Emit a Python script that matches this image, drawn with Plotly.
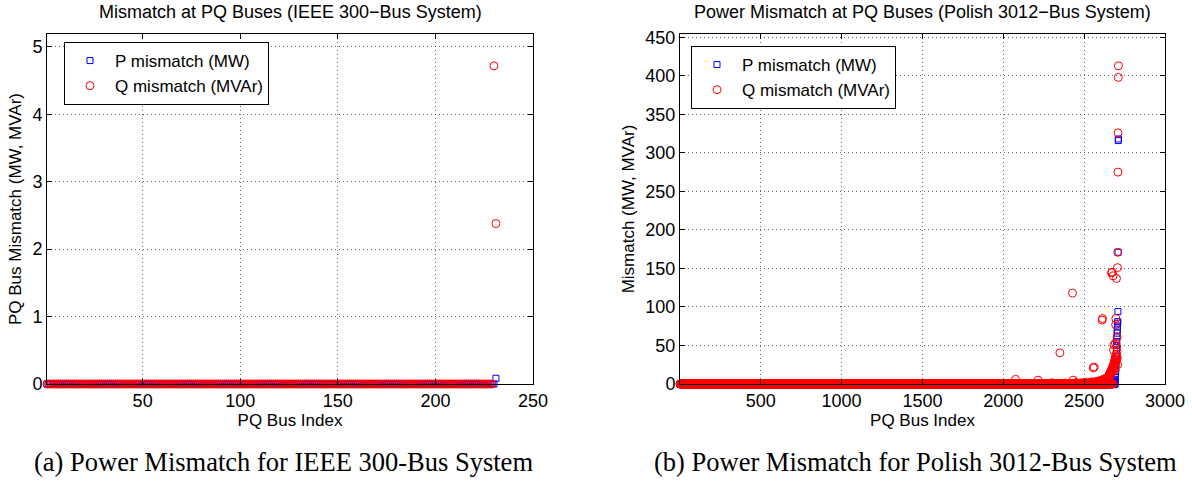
import numpy as np
import plotly.graph_objects as go

# ---------------- data ----------------
# (a) IEEE 300-bus system: PQ bus indices 1..231, all mismatches ~0 except listed
ieee_n_pq = 231
ieee_p_idx = [231]
ieee_p_val = [0.085]
ieee_q_idx = [230, 231]
ieee_q_val = [4.72, 2.38]

# (b) Polish 3012-bus system: PQ bus indices 1..2712, all ~0 except listed
polish_n_pq = 2712
polish_p_idx = [2650, 2670, 2680, 2685, 2688, 2690, 2692, 2693, 2694, 2695,
                2696, 2697, 2698, 2699, 2700, 2701, 2702, 2703, 2704, 2705,
                2706, 2707, 2708, 2709, 2710, 2711, 2712]
polish_p_val = [0.5, 1, 1.5, 2, 3, 4, 6, 9, 12, 16,
                20, 25, 31, 36, 44, 50, 55, 61, 66, 70,
                75, 79, 81, 94, 171, 316, 318]
polish_q_idx = [2076, 2215, 2300, 2350, 2380, 2428, 2432, 2450, 2480, 2500,
                2520, 2540, 2550, 2556, 2562, 2565, 2575, 2585, 2590, 2595,
                2600, 2605, 2611, 2614, 2615, 2620, 2625, 2630, 2635, 2640,
                2645, 2648, 2650, 2653, 2655, 2658, 2660, 2662, 2664, 2666,
                2668, 2669, 2670, 2672, 2673, 2675, 2677, 2679, 2680, 2681,
                2682, 2683, 2684, 2685, 2686, 2687, 2688, 2689, 2690, 2691,
                2692, 2693, 2694, 2695, 2696, 2697, 2698, 2699, 2700, 2701,
                2702, 2703, 2704, 2705, 2706, 2707, 2708, 2709, 2710, 2711,
                2712]
polish_q_val = [6, 5, 1.5, 40.5, 1.2, 118, 5, 2, 1.5, 2,
                2.5, 2, 3, 21, 22, 2.5, 3, 3.5, 2, 4,
                3, 5, 83, 85, 4, 6, 5, 7, 6, 8,
                7, 9, 10, 8, 12, 10, 14, 12, 16, 13,
                18, 144.5, 15, 20, 145, 17, 22, 140.5, 24, 19,
                44, 26, 21, 50.8, 28, 23, 30, 25, 18, 32,
                27, 35, 53, 77, 85, 38, 29, 31, 137, 48,
                35, 42, 61, 34, 151, 25, 171, 275, 326, 398,
                413]

ieee_xticks = [50, 100, 150, 200, 250]
ieee_yticks = [0, 1, 2, 3, 4, 5]
polish_xticks = [500, 1000, 1500, 2000, 2500, 3000]
polish_yticks = [0, 50, 100, 150, 200, 250, 300, 350, 400, 450]


def full_series(n, idx, val):
    arr = np.zeros(n)
    arr[np.array(idx) - 1] = val
    return arr


ieee_x = np.arange(1, ieee_n_pq + 1)
ieee_p = full_series(ieee_n_pq, ieee_p_idx, ieee_p_val)
ieee_q = full_series(ieee_n_pq, ieee_q_idx, ieee_q_val)
polish_x = np.arange(1, polish_n_pq + 1)
polish_p = full_series(polish_n_pq, polish_p_idx, polish_p_val)
polish_q = full_series(polish_n_pq, polish_q_idx, polish_q_val)

# ---------------- figure ----------------
W, H = 1192, 485
FONT = "Liberation Sans, Arial, Helvetica, sans-serif"
SERIF = "Liberation Serif, Times New Roman, serif"
BLUE = "#0000ff"
RED = "#ff0000"


def px_x(p):
    return p / W


def px_y(p):
    return 1 - p / H


fig = go.Figure()

sq = dict(symbol="square-open", size=6, color=BLUE, line=dict(width=1, color=BLUE))
ci = dict(symbol="circle-open", size=8, color=RED, line=dict(width=1, color=RED))

fig.add_trace(go.Scatter(x=ieee_x, y=ieee_p, mode="markers", marker=sq, cliponaxis=False,
                         name="P mismatch (MW)", xaxis="x", yaxis="y", legend="legend"))
fig.add_trace(go.Scatter(x=ieee_x, y=ieee_q, mode="markers", marker=ci, cliponaxis=False,
                         name="Q mismatch (MVAr)", xaxis="x", yaxis="y", legend="legend"))
fig.add_trace(go.Scatter(x=polish_x, y=polish_p, mode="markers", marker=sq, cliponaxis=False,
                         name="P mismatch (MW)", xaxis="x2", yaxis="y2", legend="legend2"))
fig.add_trace(go.Scatter(x=polish_x, y=polish_q, mode="markers", marker=ci, cliponaxis=False,
                         name="Q mismatch (MVAr)", xaxis="x2", yaxis="y2", legend="legend2"))

axis_common = dict(
    automargin=False,
    showline=True, linecolor="black", linewidth=1, mirror="ticks",
    ticks="inside", ticklen=5, tickcolor="black", tickwidth=1,
    showgrid=True, gridcolor="rgba(0,0,0,0.6)", gridwidth=1, griddash="1px,3px",
    zeroline=False, tickfont=dict(family=FONT, size=18, color="black"),
    title_font=dict(family=FONT, size=17, color="black"),
)

ydom = [px_y(384), px_y(34)]

legend_common = dict(xanchor="left", yanchor="top", bgcolor="white",
                     bordercolor="black", borderwidth=1, itemwidth=40,
                     font=dict(family=FONT, size=17, color="black"), tracegroupgap=0)

fig.update_layout(
    template="none",
    width=W, height=H,
    margin=dict(l=0, r=0, t=0, b=0, autoexpand=False),
    paper_bgcolor="white", plot_bgcolor="white",
    font=dict(family=FONT, color="black"),
    showlegend=True,
    xaxis=dict(axis_common, domain=[px_x(47), px_x(533)], range=[1, 250],
               tickvals=ieee_xticks, title=dict(text="PQ Bus Index", standoff=0),
               anchor="y"),
    yaxis=dict(axis_common, domain=ydom, range=[0, 1.1 * max(ieee_q_val)],
               tickvals=ieee_yticks, title=dict(text="PQ Bus Mismatch (MW, MVAr)", standoff=6),
               anchor="x"),
    xaxis2=dict(axis_common, domain=[px_x(680), px_x(1165)], range=[1, 3000],
                tickvals=polish_xticks, title=dict(text="PQ Bus Index", standoff=0),
                anchor="y2"),
    yaxis2=dict(axis_common, domain=ydom, range=[0, 1.1 * max(polish_q_val)],
                tickvals=polish_yticks, title=dict(text="Mismatch (MW, MVAr)", standoff=6),
                anchor="x2"),
    legend=dict(legend_common, x=px_x(64), y=px_y(42)),
    legend2=dict(legend_common, x=px_x(691), y=px_y(46)),
)

annotations = [
    dict(text="Mismatch at PQ Buses (IEEE 300\u2212Bus System)", x=px_x(290), y=px_y(12),
         font=dict(family=FONT, size=18, color="black")),
    dict(text="Power Mismatch at PQ Buses (Polish 3012\u2212Bus System)", x=px_x(922), y=px_y(12),
         font=dict(family=FONT, size=18, color="black")),
    dict(text="(a) Power Mismatch for IEEE 300-Bus System", x=px_x(283), y=px_y(462),
         font=dict(family=SERIF, size=26.5, color="black")),
    dict(text="(b) Power Mismatch for Polish 3012-Bus System", x=px_x(915), y=px_y(462),
         font=dict(family=SERIF, size=26.5, color="black")),
]
for a in annotations:
    a.update(xref="paper", yref="paper", xanchor="center", yanchor="middle", showarrow=False)
fig.update_layout(annotations=annotations)

fig.write_html("out.html")
